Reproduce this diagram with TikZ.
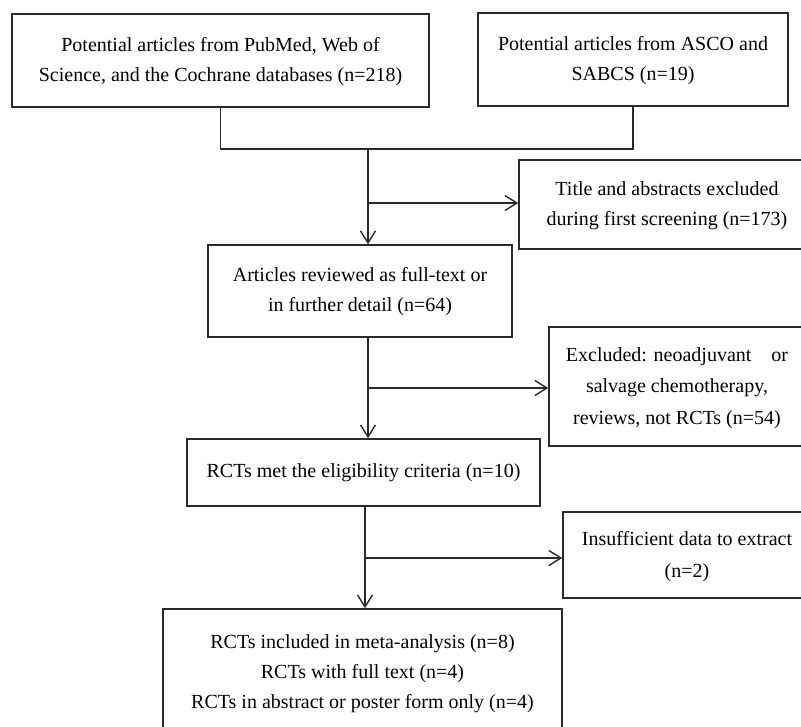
\documentclass[tikz,border=0pt]{standalone}
\usepackage{fontspec}
\setmainfont{Liberation Serif}
\usetikzlibrary{arrows.meta}
\definecolor{ink}{HTML}{2A2A2A}
\newcommand{\stackedlines}[2]{\raisebox{#1}{\begin{tabular}{@{}c@{}}#2\end{tabular}}}
\tikzset{
  box/.style={draw=ink, line width=1.6pt, rectangle, align=center, inner sep=0pt,
    font=\fontsize{20pt}{30pt}\selectfont, text=black},
  conn/.style={draw=ink, line width=1.4pt},
  arr/.style={conn, -{Straight Barb[length=12pt,width=15pt,line width=1.4pt]}}
}
\begin{document}
\begin{tikzpicture}[x=1pt,y=-1pt]
\fill[white] (0,0) rectangle (801,727);
\useasboundingbox (0,0) rectangle (801,727);
\clip (0,0) rectangle (801,727);

\node[box, minimum width=417pt, minimum height=93pt] (b1) at (220.5,60.5)
  {\stackedlines{-2pt}{Potential articles from PubMed, Web of\\Science, and the Cochrane databases (n=218)}};
\node[box, minimum width=310pt, minimum height=93pt] (b2) at (633,59.5)
  {\stackedlines{-1pt}{Potential articles from ASCO and\\SABCS (n=19)}};
\node[box, minimum width=296pt, minimum height=89pt] (t1) at (667,204.5)
  {\stackedlines{0pt}{Title and abstracts excluded\\during first screening (n=173)}};
\node[box, minimum width=304pt, minimum height=92pt] (b3) at (360,291)
  {\stackedlines{-1pt}{Articles reviewed as full-text or\\in further detail (n=64)}};
\node[box, minimum width=256pt, minimum height=119pt] (e2) at (677,386.5)
  {\renewcommand{\arraystretch}{1.05}\stackedlines{-5pt}{Excluded: neoadjuvant\hspace{0.75em} or\\salvage chemotherapy,\\reviews, not RCTs (n=54)}};
\node[box, minimum width=353pt, minimum height=67pt] (b4) at (363.5,472.5)
  {RCTs met the eligibility criteria (n=10)};
\node[box, minimum width=248pt, minimum height=86pt] (e3) at (687,555)
  {\renewcommand{\arraystretch}{1.07}\stackedlines{-5pt}{Insufficient data to extract\\(n=2)}};
\node[box, minimum width=399pt, minimum height=126pt] (b5) at (362.5,672)
  {\stackedlines{0pt}{RCTs included in meta-analysis (n=8)\\RCTs with full text (n=4)\\RCTs in abstract or poster form only (n=4)}};

% merge of the two sources
\coordinate (m1) at (368,149);
\coordinate (br1) at (368,203);
\coordinate (br2) at (368,388);
\coordinate (m3) at (365,558);
\draw[conn] (b1.south) -- (b1.south |- m1) -- (b2.south |- m1) -- (b2.south);
\draw[arr] (m1) -- (m1 |- b3.north);
\draw[arr] (br1) -- (br1 -| t1.west);
\draw[arr] (b3.south -| m1) -- (b4.north -| m1);
\draw[arr] (br2) -- (br2 -| e2.west);
\draw[arr] (b4.south -| m3) -- (b5.north -| m3);
\draw[arr] (m3) -- (m3 -| e3.west);
\end{tikzpicture}
\end{document}
